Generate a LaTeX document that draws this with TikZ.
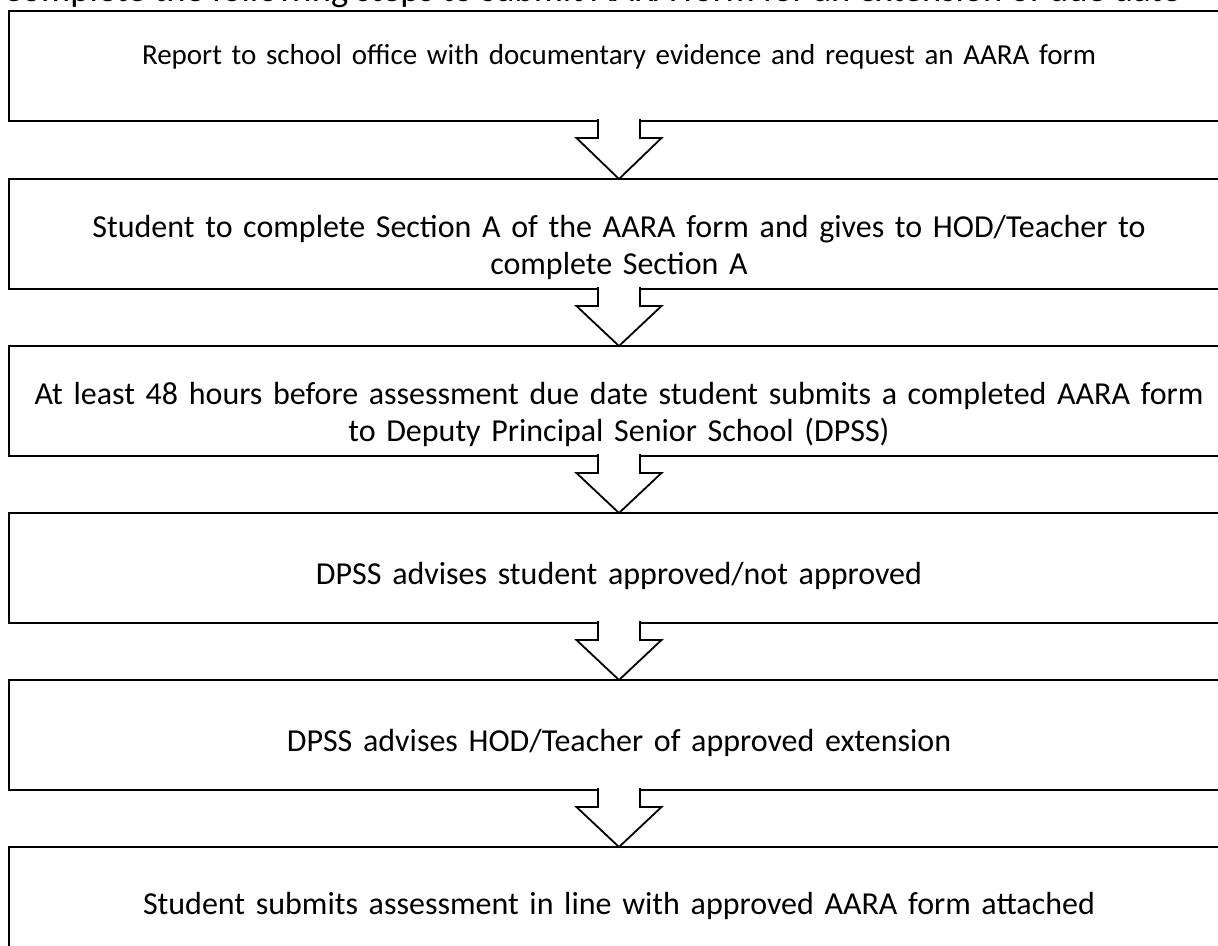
\documentclass[tikz,border=0pt]{standalone}
\usepackage{fontspec}
\setmainfont{Carlito}
\usetikzlibrary{calc,positioning}

\begin{document}
\begin{tikzpicture}[x=1pt,y=-1pt,
  stepbox/.style={draw,line width=2.5pt,rectangle,minimum width=1220pt,minimum height=110pt,outer sep=0pt,inner sep=0pt},
  steptext/.style={font=\fontsize{32}{37}\selectfont,align=center,text width=1210pt},
  blockarrow/.style={draw,fill=white,line width=1.8pt,line join=miter}]
  \clip (0,0) rectangle (1218,945);

  \node[anchor=base west,font=\fontsize{36.5}{42}\selectfont] (title) at (-1,1) {Complete the following steps to submit AARA form for an extension of due date};

  \node[stepbox,label={[steptext,font=\fontsize{29}{36}\selectfont,yshift=9pt]center:Report to school office with documentary evidence and request an AARA form}] (s1) at (619,66) {};
  \node[stepbox,label={[steptext,yshift=-13pt]center:Student to complete Section A of the AARA form and gives to HOD/Teacher to\\complete Section A}] (s2) at (619,234) {};
  \node[stepbox,label={[steptext,yshift=-13pt]center:At least 48 hours before assessment due date student submits a completed AARA form\\to Deputy Principal Senior School (DPSS)}] (s3) at (619,401) {};
  \node[stepbox,label={[steptext,yshift=-8pt]center:DPSS advises student approved/not approved}] (s4) at (619,568) {};
  \node[stepbox,label={[steptext,yshift=-8pt]center:DPSS advises HOD/Teacher of approved extension}] (s5) at (619,735) {};
  \node[stepbox,label={[steptext,yshift=-4pt]center:Student submits assessment in line with approved AARA form attached}] (s6) at (619,902) {};

  % hollow arrows between the steps
  \draw[blockarrow] ($(s1.south)+(-21,-2)$) -- ($(s1.south)+(-21,17)$) -- ($(s1.south)+(-42.5,17)$) -- (s2.north) -- ($(s1.south)+(42.5,17)$) -- ($(s1.south)+(21,17)$) -- ($(s1.south)+(21,-2)$);
  \draw[blockarrow] ($(s2.south)+(-21,-2)$) -- ($(s2.south)+(-21,17)$) -- ($(s2.south)+(-42.5,17)$) -- (s3.north) -- ($(s2.south)+(42.5,17)$) -- ($(s2.south)+(21,17)$) -- ($(s2.south)+(21,-2)$);
  \draw[blockarrow] ($(s3.south)+(-21,-2)$) -- ($(s3.south)+(-21,17)$) -- ($(s3.south)+(-42.5,17)$) -- (s4.north) -- ($(s3.south)+(42.5,17)$) -- ($(s3.south)+(21,17)$) -- ($(s3.south)+(21,-2)$);
  \draw[blockarrow] ($(s4.south)+(-21,-2)$) -- ($(s4.south)+(-21,17)$) -- ($(s4.south)+(-42.5,17)$) -- (s5.north) -- ($(s4.south)+(42.5,17)$) -- ($(s4.south)+(21,17)$) -- ($(s4.south)+(21,-2)$);
  \draw[blockarrow] ($(s5.south)+(-21,-2)$) -- ($(s5.south)+(-21,17)$) -- ($(s5.south)+(-42.5,17)$) -- (s6.north) -- ($(s5.south)+(42.5,17)$) -- ($(s5.south)+(21,17)$) -- ($(s5.south)+(21,-2)$);
\end{tikzpicture}
\end{document}
